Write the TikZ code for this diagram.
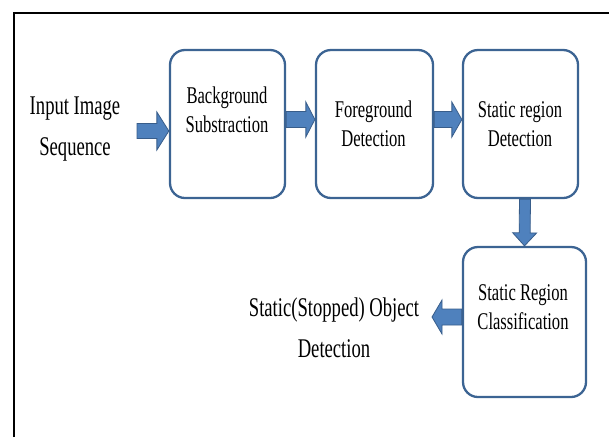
\documentclass[tikz,border=0pt]{standalone}
\usepackage{fontspec}
\setmainfont{Liberation Serif}[FakeStretch=0.69]
\usepackage{tikz}
\usetikzlibrary{calc,positioning}

\definecolor{boxblue}{RGB}{60,100,147}
\definecolor{arrowfill}{RGB}{79,129,189}
\definecolor{arrowedge}{RGB}{56,93,138}

% block arrow: start, tip, shaft half width, head half width, head length
\newcommand{\blockarrow}[5]{%
	\coordinate (arrS) at (#1);
	\coordinate (arrT) at (#2);
	\coordinate (arrH) at ($(arrT)!#5!(arrS)$);
	\draw [arrowstyle] ($(arrS)!#3!90:(arrT)$) -- ($(arrH)!#3!90:(arrT)$) -- ($(arrH)!#4!90:(arrT)$) -- (arrT) -- ($(arrH)!#4!-90:(arrT)$) -- ($(arrH)!#3!-90:(arrT)$) -- ($(arrS)!#3!-90:(arrT)$) -- cycle;
}

\begin{document}
\begin{tikzpicture}[x = 1pt, y = -1pt,
						stage/.style = {rectangle, draw = boxblue, line width = 2.3pt, rounded corners = 15pt, inner sep = 0pt},
						stagetext/.style = {align = center, inner sep = 0pt, anchor = base, font = \fontsize{24}{29}\selectfont},
						outtext/.style = {align = center, inner sep = 0pt, anchor = base, font = \fontsize{27}{41}\selectfont},
						arrowstyle/.style = {fill = arrowfill, draw = arrowedge, line width = 0.8pt, line join = miter}]
		\useasboundingbox (0,0) rectangle (609,437);
		% Frame
		\draw [line width = 2pt] (14,437) -- (14,13) -- (609,13);
		% Top row
		\node (bgs) at (227.5,124) [stage, minimum width = 115pt, minimum height = 148pt] {};
		\node (fgd) at (374.5,124) [stage, minimum width = 117pt, minimum height = 148pt] {};
		\node (srd) at (520.5,124) [stage, minimum width = 115pt, minimum height = 148pt] {};
		\node (src) at (524.5,322) [stage, minimum width = 123pt, minimum height = 150pt] {};
		\node (bgstext) at (227,132) [stagetext] {Background\\Substraction};
		\node (fgdtext) at (373.5,146) [stagetext] {Foreground\\Detection};
		\node (srdtext) at (520,146) [stagetext] {Static region\\Detection};
		\node (srctext) at (523,329) [stagetext] {Static Region\\Classification};
		% Input and output
		\node (input) at (75,155) [outtext] {Input Image\\Sequence};
		\node (output) at (334,357) [outtext] {Static(Stopped) Object\\Detection};
		\coordinate (inarr) at (137,131);
		\coordinate (outarr) at (432,317);
		% Arrows
		\blockarrow{inarr}{$(bgs.west)+(0,7)$}{7.5pt}{19pt}{12pt}
		\blockarrow{$(bgs.east)+(0,-4.5)$}{$(fgd.west)+(0,-4.5)$}{8pt}{17.5pt}{9pt}
		\blockarrow{$(fgd.east)+(0,-4.5)$}{$(srd.west)+(0,-4.5)$}{8pt}{17.5pt}{10pt}
		\blockarrow{$(srd.south)+(4.5,0)$}{src.north}{5.5pt}{12pt}{13pt}
		\blockarrow{$(src.west)+(0,-5)$}{outarr}{8pt}{17pt}{10pt}
	\end{tikzpicture}
\end{document}
